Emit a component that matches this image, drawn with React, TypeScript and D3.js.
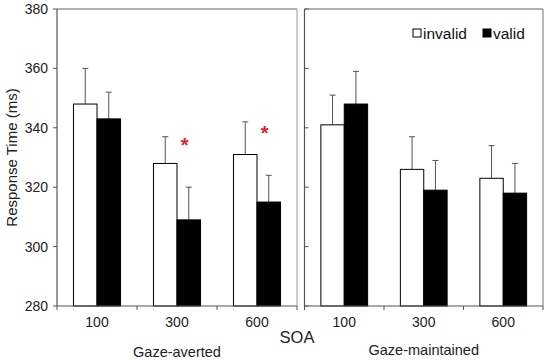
import React from 'react';
import * as d3 from 'd3';

const soa = ['100', '300', '600'];
const conditions = ['invalid', 'valid'];
const panels = ['Gaze-averted', 'Gaze-maintained'];
// means[panel][soa] = [invalid, valid]
const means = [
  [[348, 343], [328, 309], [331, 315]],
  [[341, 348], [326, 319], [323, 318]],
];
const errTops = [
  [[360, 352], [337, 320], [342, 324]],
  [[351, 359], [337, 329], [334, 328]],
];
const yTicks = [280, 300, 320, 340, 360, 380];
// significance stars: panel, soa index, level
const stars = [
  { panel: 0, soa: '300', level: 335 },
  { panel: 0, soa: '600', level: 339 },
];

const font = 'Arial, "Liberation Sans", sans-serif';

const App: React.FC = () => {
  const width = 550;
  const height = 360;
  const top = 9;
  const bottom = 306;
  const panelX = [
    [57, 297],
    [304.5, 543],
  ];

  const y = d3.scaleLinear().domain([280, 380]).range([bottom, top]);

  return (
    <svg width={width} height={height} style={{ position: 'absolute', left: 0, top: 0 }}>
      <rect width={width} height={height} fill="#fff" />
      {panels.map((name, pi) => {
        const [x0, x1] = panelX[pi];
        const x = d3.scaleBand().domain(soa).range([x0, x1]).paddingInner(0).paddingOuter(0);
        const inner = d3.scaleBand().domain(conditions).range([0, x.bandwidth()]).paddingInner(0).paddingOuter(0.7);
        return (
          <g key={name}>
            {/* frame */}
            <line x1={x0} x2={x1} y1={top} y2={top} stroke="#666" strokeWidth={1} />
            <line x1={x1} x2={x1} y1={top} y2={bottom} stroke={pi === 0 ? '#aaa' : '#888'} strokeWidth={1.2} />
            {soa.map((s, si) =>
              conditions.map((c, ci) => {
                const bx = (x(s) as number) + (inner(c) as number);
                const bw = inner.bandwidth();
                const v = means[pi][si][ci];
                const e = errTops[pi][si][ci];
                const cx = bx + bw / 2;
                return (
                  <g key={s + c}>
                    <line x1={cx} x2={cx} y1={y(v)} y2={y(e)} stroke="#555" strokeWidth={1} />
                    <line x1={cx - 3} x2={cx + 3} y1={y(e)} y2={y(e)} stroke="#555" strokeWidth={1} />
                    <rect
                      x={bx}
                      y={y(v)}
                      width={bw}
                      height={y(280) - y(v)}
                      fill={ci === 0 ? '#fff' : '#000'}
                      stroke="#000"
                      strokeWidth={1}
                    />
                  </g>
                );
              })
            )}
            {/* y axis */}
            <line x1={x0} x2={x0} y1={top} y2={bottom} stroke="#555" strokeWidth={1.2} />
            {yTicks.map((t) => (
              <line
                key={t}
                x1={pi === 0 ? x0 - 4 : x0}
                x2={pi === 0 ? x0 : x0 + 4}
                y1={y(t)}
                y2={y(t)}
                stroke="#555"
              />
            ))}
            {pi === 0 &&
              yTicks.map((t) => (
                <text
                  key={t}
                  x={x0 - 9}
                  y={y(t)}
                  dy="0.35em"
                  textAnchor="end"
                  fontSize={14}
                  fontFamily={font}
                  fill="#222"
                >
                  {t}
                </text>
              ))}
            {/* x axis */}
            <line x1={x0} x2={x1} y1={bottom} y2={bottom} stroke="#555" strokeWidth={1.2} />
            {[x0, ...soa.slice(1).map((s) => x(s) as number), x1].map((tx, i) => (
              <line key={i} x1={tx} x2={tx} y1={bottom} y2={bottom + 4} stroke="#555" />
            ))}
            {soa.map((s) => (
              <text
                key={s}
                x={(x(s) as number) + x.bandwidth() / 2}
                y={bottom + 21}
                textAnchor="middle"
                fontSize={14}
                fontFamily={font}
                fill="#222"
              >
                {s}
              </text>
            ))}
            <text
              x={(x0 + x1) / 2}
              y={pi === 0 ? 357 : 355}
              textAnchor="middle"
              fontSize={14.5}
              fontFamily={font}
              fill="#222"
            >
              {name}
            </text>
            {stars
              .filter((st) => st.panel === pi)
              .map((st) => (
                <text
                  key={st.soa}
                  x={(x(st.soa) as number) + (inner('valid') as number) + inner.bandwidth() / 2 - 4}
                  y={y(st.level) + 9}
                  textAnchor="middle"
                  fontSize={20}
                  fontWeight="bold"
                  fontFamily={font}
                  fill="#e31e24"
                >
                  *
                </text>
              ))}
          </g>
        );
      })}
      <text
        transform={`translate(17,${(top + bottom) / 2}) rotate(-90)`}
        textAnchor="middle"
        fontSize={15}
        fontFamily={font}
        fill="#222"
      >
        Response Time (ms)
      </text>
      <text x={297} y={343} textAnchor="middle" fontSize={16.5} fontFamily={font} fill="#222">
        SOA
      </text>
      {/* legend */}
      {conditions.map((c, i) => {
        const lx = [413, 483][i];
        return (
          <g key={c}>
            <rect
              x={lx}
              y={29}
              width={8}
              height={8}
              fill={i === 0 ? '#fff' : '#000'}
              stroke="#000"
              strokeWidth={1}
            />
            <text x={lx + 10} y={38.5} fontSize={15.5} fontFamily={font} fill="#111">
              {c}
            </text>
          </g>
        );
      })}
    </svg>
  );
};

export default App;
